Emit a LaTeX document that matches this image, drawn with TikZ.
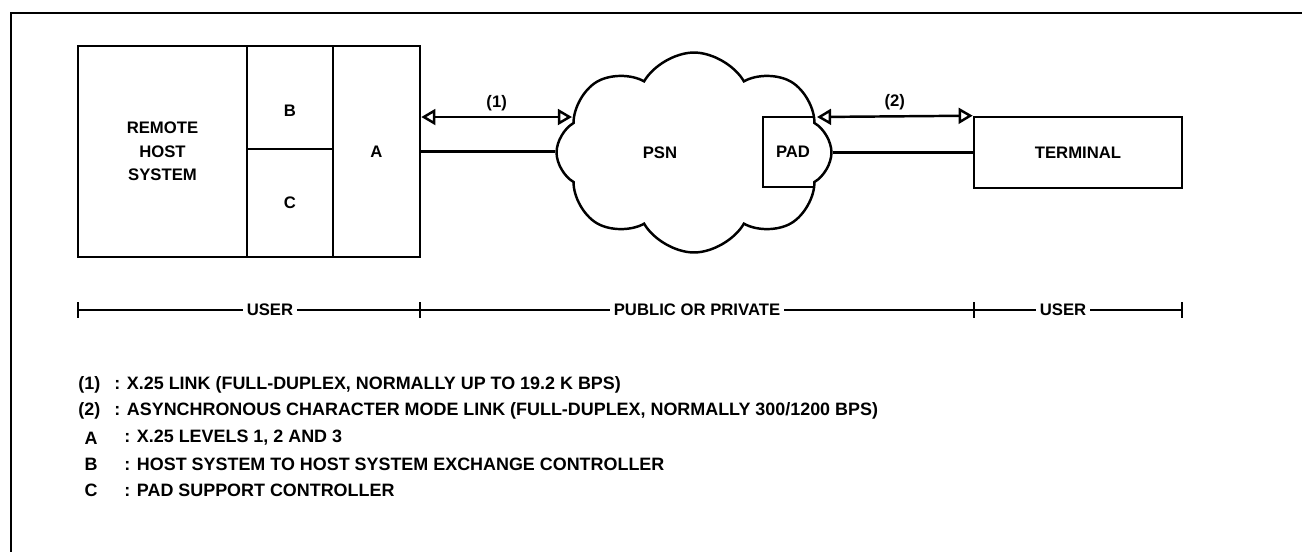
\documentclass[tikz,border=0pt]{standalone}
\usepackage{fontspec}
\setmainfont{Liberation Sans}
\usetikzlibrary{arrows.meta, calc, positioning, shapes.symbols}

\tikzset{
  unit/.style={draw, line width=1.5pt, inner sep=0pt, font=\fontsize{9.5}{13.3}\selectfont\bfseries},
  duplex/.style={{Triangle[open,length=8pt,width=9pt]}-{Triangle[open,length=8pt,width=9pt]}, line width=1.4pt},
  link/.style={line width=1.4pt},
  lbl/.style={font=\fontsize{9.5}{11}\selectfont\bfseries, inner sep=2pt},
  legend/.style={anchor=west, inner sep=0pt, font=\fontsize{10.2}{12}\selectfont\bfseries},
}

\begin{document}
\begin{tikzpicture}[x=0.02cm, y=-0.02cm]
\useasboundingbox (0,0) rectangle (1302,552);

% frame
\draw[line width=1.6pt] (1302,13) -| (11,552);

% remote host
\node[unit, minimum width=3.38cm, minimum height=4.22cm, align=center] (host) at (162.5,151.5) {REMOTE\\HOST\\SYSTEM};
\node[unit, minimum width=1.72cm, minimum height=2.06cm, label={[lbl, yshift=-0.27cm]center:B}] (bbox) at (290,97.5) {};
\node[unit, minimum width=1.72cm, minimum height=2.16cm] (cbox) at (290,203) {C};
\node[unit, minimum width=1.74cm, minimum height=4.22cm] (abox) at (376.5,151.5) {A};

% network
\node[lbl, minimum width=1.2cm, minimum height=1.4cm, inner sep=0pt] (pad) at (793,152) {PAD};
\node[cloud, draw, line width=1.4pt, cloud puffs=8, cloud puff arc=120, cloud ignores aspect,
      minimum width=5.5cm, minimum height=4.0cm, inner sep=0pt,
      path picture={\draw[line width=1.25pt] (pad.north west) rectangle ($(pad.south east)+(40,0)$);}] (psn) at (694,152.5) {};
\node[lbl] (psnlbl) at (660,153) {PSN};

\node[unit, minimum width=4.16cm, minimum height=1.42cm] (term) at (1078,152.5) {TERMINAL};

\coordinate (cin) at (572,117);
\coordinate (cout) at (817,117);

\draw[duplex] (abox.east |- cin) -- (cin) node[lbl, midway, above=1pt] (lone) {(1)};
\draw[link] (abox.east) -- (abox.east -| psn.west);
\draw[duplex] (cout) -- (term.north west) node[lbl, midway, above=1pt] (ltwo) {(2)};
\draw[link] (psn.east |- term.west) -- (term.west);

% ownership scale
\coordinate (t1) at (78,310);
\coordinate (t2) at (420,310);
\coordinate (t3) at (974,310);
\coordinate (t4) at (1182,310);
\node[lbl] (user1) at (270,310) {USER};
\node[lbl] (pub) at (697,310) {PUBLIC OR PRIVATE};
\node[lbl] (user2) at (1063,310) {USER};
\draw[link] (t1) -- (user1) -- (t2) -- (pub) -- (t3) -- (user2) -- (t4);
\foreach \t in {t1,t2,t3,t4}
    \draw[link] ($(\t)+(0,-8)$) -- ($(\t)+(0,8)$);

% legend
\node[legend] (k1) at (78,385) {(1)};
\node[legend] (d1) at (114,385) {: X.25 LINK (FULL-DUPLEX, NORMALLY UP TO 19.2 K BPS)};
\node[legend] (k2) at (78,411) {(2)};
\node[legend] (d2) at (114,411) {: ASYNCHRONOUS CHARACTER MODE LINK (FULL-DUPLEX, NORMALLY 300/1200 BPS)};
\node[legend, anchor=center] (ka) at (91,438) {A};
\node[legend] (da) at (124,438) {: X.25 LEVELS 1, 2 AND 3};
\node[legend, anchor=center] (kb) at (91,464) {B};
\node[legend] (db) at (124,464) {: HOST SYSTEM TO HOST SYSTEM EXCHANGE CONTROLLER};
\node[legend, anchor=center] (kc) at (91,490) {C};
\node[legend] (dc) at (124,490) {: PAD SUPPORT CONTROLLER};

\end{tikzpicture}
\end{document}
